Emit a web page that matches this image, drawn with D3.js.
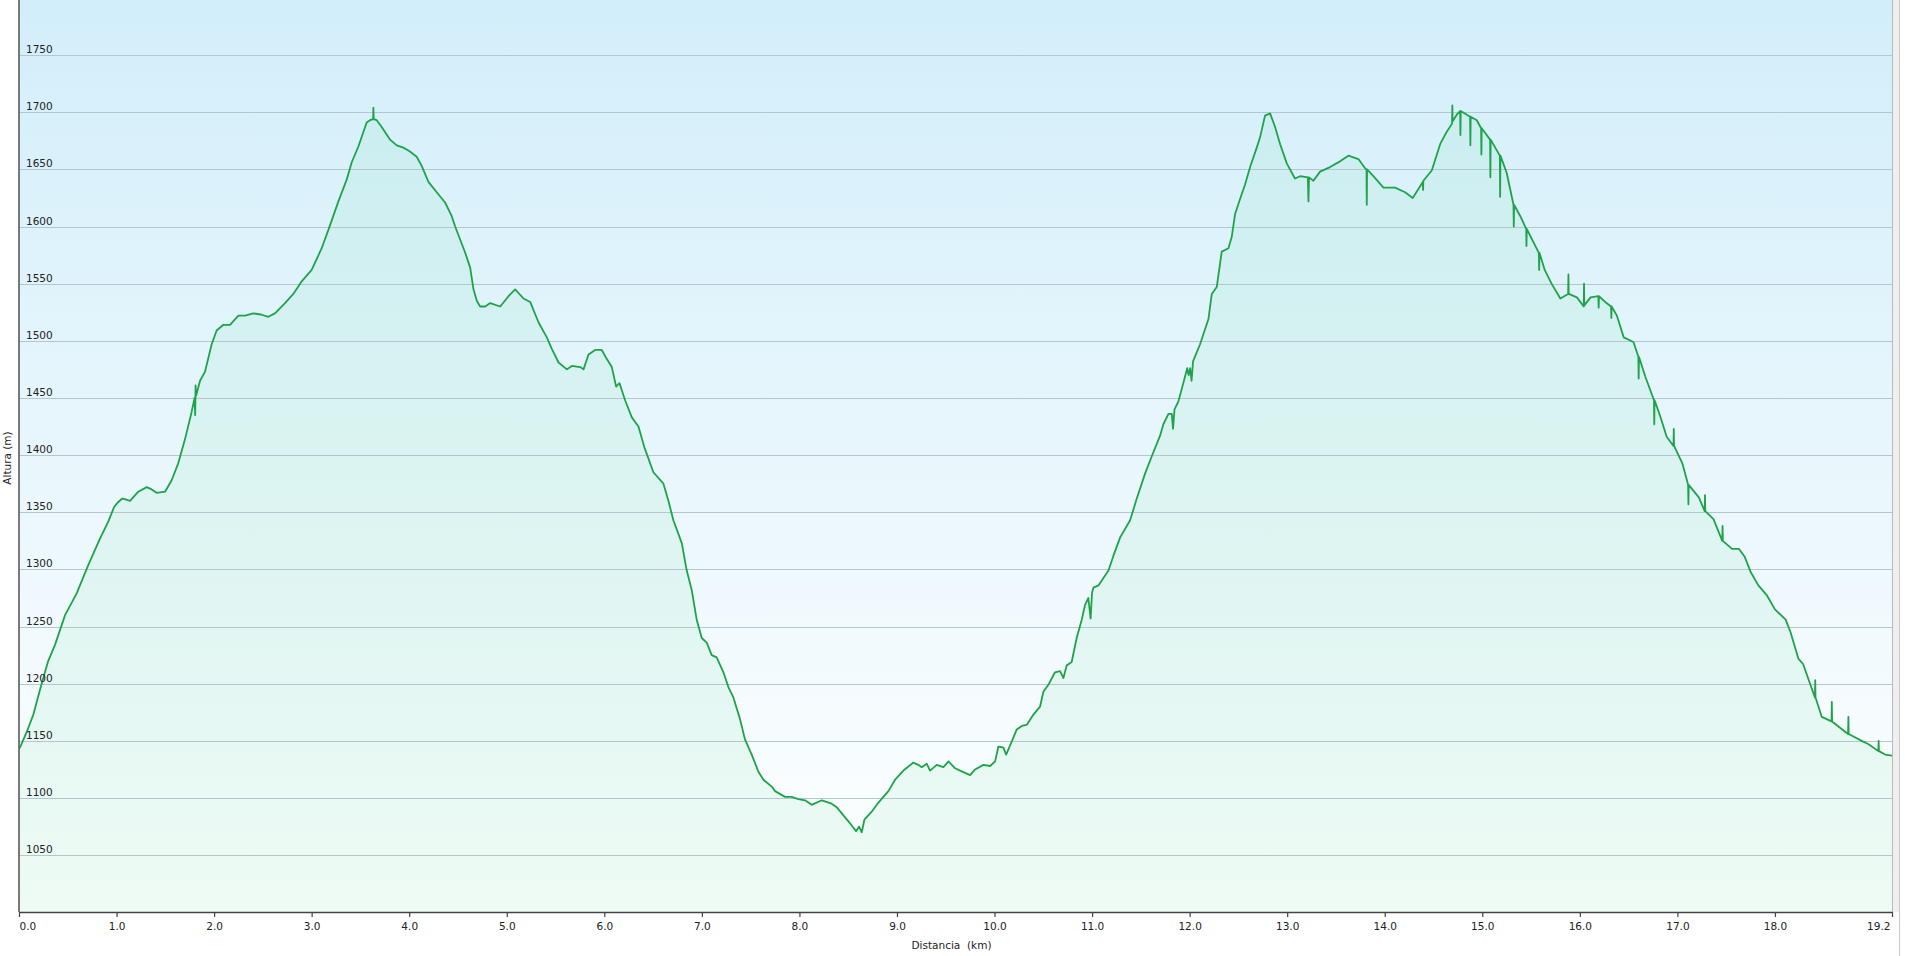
<!DOCTYPE html>
<html>
<head>
<meta charset="utf-8">
<script src="https://cdn.jsdelivr.net/npm/d3@7"></script>
<style>
html,body{margin:0;padding:0;background:#fff;}
svg{display:block;}
text{font-family:"DejaVu Sans",Verdana,sans-serif;fill:#222;}
</style>
</head>
<body>
<svg id="chart" width="1905" height="956"></svg>
<script>
// Distance along the track (km)
const distKm = [
0.000,0.020,0.080,0.147,0.232,0.300,0.369,0.472,0.591,0.711,0.830,0.916,0.977,1.018,1.059,1.100,1.138,1.223,1.309,1.360,
1.411,1.497,1.565,1.633,1.702,1.770,1.800,1.806,1.810,1.815,1.856,1.907,1.975,2.026,2.095,2.163,2.249,2.317,2.402,2.480,
2.556,2.624,2.727,2.812,2.898,3.000,3.103,3.188,3.274,3.359,3.410,3.479,3.564,3.598,3.630,3.633,3.636,3.667,3.718,3.804,
3.872,3.940,4.000,4.077,4.128,4.197,4.282,4.368,4.436,4.471,4.574,4.625,4.659,4.693,4.727,4.779,4.830,4.933,5.018,5.086,
5.172,5.240,5.326,5.411,5.462,5.531,5.616,5.667,5.753,5.787,5.838,5.906,5.974,6.026,6.077,6.121,6.155,6.213,6.282,6.350,
6.410,6.503,6.606,6.657,6.708,6.794,6.845,6.896,6.947,6.999,7.050,7.101,7.152,7.221,7.272,7.323,7.391,7.443,7.511,7.580,
7.631,7.716,7.750,7.853,7.921,7.989,8.058,8.126,8.229,8.331,8.382,8.468,8.536,8.581,8.612,8.639,8.666,8.741,8.810,8.912,
8.981,9.066,9.168,9.219,9.254,9.305,9.339,9.408,9.476,9.528,9.596,9.647,9.750,9.801,9.886,9.955,10.006,10.040,10.092,10.119,
10.160,10.228,10.279,10.331,10.399,10.467,10.501,10.552,10.620,10.672,10.706,10.740,10.791,10.842,10.894,10.928,10.962,10.985,11.000,11.014,
11.065,11.168,11.219,11.288,11.390,11.458,11.544,11.612,11.697,11.731,11.783,11.817,11.830,11.845,11.885,11.954,11.975,11.990,12.005,12.020,
12.035,12.107,12.193,12.227,12.278,12.329,12.398,12.432,12.466,12.517,12.569,12.620,12.688,12.722,12.773,12.825,12.876,12.928,12.997,13.080,
13.133,13.212,13.218,13.224,13.269,13.337,13.440,13.542,13.628,13.730,13.799,13.813,13.816,13.819,13.884,13.987,14.106,14.209,14.287,14.390,
14.393,14.396,14.482,14.568,14.636,14.690,14.693,14.696,14.740,14.773,14.776,14.779,14.875,14.878,14.881,14.944,14.988,14.991,14.994,15.080,
15.083,15.086,15.180,15.183,15.186,15.250,15.320,15.323,15.326,15.390,15.450,15.453,15.456,15.520,15.580,15.583,15.586,15.640,15.710,15.800,
15.880,15.883,15.886,15.970,16.040,16.043,16.046,16.110,16.190,16.193,16.196,16.260,16.320,16.323,16.326,16.380,16.450,16.550,16.600,16.603,
16.606,16.670,16.760,16.763,16.766,16.820,16.890,16.960,16.963,16.966,17.050,17.110,17.113,17.116,17.220,17.280,17.283,17.286,17.370,17.460,
17.463,17.466,17.560,17.630,17.690,17.750,17.830,17.920,18.000,18.110,18.160,18.240,18.290,18.360,18.410,18.413,18.416,18.480,18.580,18.583,
18.586,18.690,18.750,18.753,18.756,18.890,18.960,19.060,19.063,19.066,19.130,19.200
];
// Elevation (m)
const altM = [
1143,1146,1158,1173,1200,1220,1234,1260,1279,1304,1327,1342,1355,1359,1362,1361,1360,1368,1372,1370,
1367,1368,1378,1393,1414,1438,1450,1435,1461,1452,1465,1473,1497,1509,1514,1514,1522,1522,1524,1523,
1521,1524,1533,1541,1552,1562,1581,1601,1622,1641,1656,1670,1691,1693,1694,1704,1694,1693,1687,1676,
1671,1669,1666,1661,1653,1639,1630,1621,1609,1600,1577,1564,1545,1535,1530,1530,1533,1530,1539,1545,
1537,1534,1516,1503,1493,1481,1475,1478,1477,1475,1488,1492,1492,1484,1477,1460,1463,1448,1433,1425,
1407,1385,1375,1360,1343,1323,1299,1282,1256,1240,1236,1225,1223,1210,1197,1188,1169,1151,1138,1123,
1116,1110,1106,1101,1101,1099,1098,1094,1098,1095,1092,1083,1076,1071,1075,1070,1081,1088,1096,1106,
1116,1124,1131,1129,1127,1130,1124,1129,1127,1132,1126,1124,1120,1125,1129,1128,1132,1145,1144,1138,
1146,1160,1163,1164,1173,1180,1193,1199,1210,1211,1205,1216,1219,1240,1256,1269,1275,1257,1280,1284,
1286,1299,1312,1328,1343,1362,1384,1399,1417,1427,1436,1436,1423,1440,1447,1469,1476,1470,1476,1465,
1482,1497,1519,1541,1547,1578,1581,1591,1611,1624,1637,1652,1669,1678,1697,1699,1687,1672,1655,1642,
1644,1643,1622,1643,1640,1648,1652,1657,1662,1659,1651,1650,1619,1650,1644,1634,1634,1630,1625,1639,
1632,1640,1649,1672,1683,1690,1706,1692,1698,1701,1680,1701,1696,1671,1696,1693,1686,1663,1686,1676,
1643,1676,1662,1626,1662,1647,1619,1600,1619,1609,1598,1583,1598,1587,1577,1562,1577,1562,1550,1537,
1541,1558,1541,1538,1530,1550,1531,1538,1539,1529,1539,1534,1530,1520,1530,1522,1503,1499,1486,1467,
1486,1469,1448,1427,1448,1435,1416,1408,1423,1408,1393,1374,1357,1374,1363,1351,1365,1351,1344,1325,
1338,1325,1318,1318,1311,1298,1286,1277,1265,1256,1245,1222,1217,1200,1188,1203,1188,1171,1167,1184,
1167,1160,1156,1171,1156,1150,1147,1141,1150,1141,1138,1137
];
// Axis ticks
const xTicks = [0,1,2,3,4,5,6,7,8,9,10,11,12,13,14,15,16,17,18,19.2];
const yTicks = [1050,1100,1150,1200,1250,1300,1350,1400,1450,1500,1550,1600,1650,1700,1750];
const xTitle = "Distancia  (km)";
const yTitle = "Altura (m)";

(function(){
const data = distKm.map((d,i)=>({x:d, y:altM[i]}));

const pL = 19, pR = 1892, pT = 0, pB = 912;
const svg = d3.select("#chart");
const x = d3.scaleLinear().domain([0,19.2]).range([pL,pR]);
const y = d3.scaleLinear().domain([1000,1800]).range([912.3,-2.1]);

const defs = svg.append("defs");
const bg = defs.append("linearGradient").attr("id","bg").attr("x1",0).attr("y1",0).attr("x2",0).attr("y2",1);
bg.append("stop").attr("offset","0%").attr("stop-color","#d2eefa");
bg.append("stop").attr("offset","100%").attr("stop-color","#ffffff");
const ag = defs.append("linearGradient").attr("id","ag").attr("gradientUnits","userSpaceOnUse")
  .attr("x1",0).attr("y1",0).attr("x2",0).attr("y2",pB);
ag.append("stop").attr("offset","0%").attr("stop-color","#2ecc71").attr("stop-opacity",0.07);
ag.append("stop").attr("offset","100%").attr("stop-color","#2ecc71").attr("stop-opacity",0.08);
defs.append("clipPath").attr("id","clip").append("rect")
  .attr("x",pL).attr("y",pT).attr("width",pR-pL).attr("height",pB-pT);

// plot background
svg.append("rect").attr("x",pL).attr("y",pT).attr("width",pR-pL).attr("height",pB-pT)
  .attr("fill","url(#bg)");

// right border strip
svg.append("rect").attr("x",pR).attr("y",0).attr("width",7).attr("height",pB).attr("fill","#efefef");
svg.append("line").attr("x1",pR+0.5).attr("x2",pR+0.5).attr("y1",0).attr("y2",pB)
  .attr("stroke","#b4bcc0").attr("stroke-width",1);
svg.append("line").attr("x1",1899.5).attr("x2",1899.5).attr("y1",0).attr("y2",956)
  .attr("stroke","#c8c8c8").attr("stroke-width",1);

const g = svg.append("g").attr("clip-path","url(#clip)");

// area fill
g.append("path").datum(data)
  .attr("d", d3.area().x(d=>x(d.x)).y0(pB).y1(d=>y(d.y)))
  .attr("fill","url(#ag)");

// gridlines
g.selectAll("line.grid").data(yTicks).join("line").attr("class","grid")
  .attr("x1",pL).attr("x2",pR)
  .attr("y1",d=>Math.round(y(d))+0.5).attr("y2",d=>Math.round(y(d))+0.5)
  .attr("stroke","#b3c7cf").attr("stroke-width",1.2);

// y tick labels (inside plot)
svg.selectAll("text.ylab").data(yTicks).join("text").attr("class","ylab")
  .attr("x",26).attr("y",d=>Math.round(y(d))-2)
  .attr("font-size","10.5px").text(d=>d);

// profile line
g.append("path").datum(data)
  .attr("d", d3.line().x(d=>x(d.x)).y(d=>y(d.y)))
  .attr("fill","none").attr("stroke","#1fa34a").attr("stroke-width",1.8)
  .attr("stroke-linejoin","round");

// left axis line
svg.append("line").attr("x1",pL).attr("x2",pL).attr("y1",0).attr("y2",pB)
  .attr("stroke","#5a5a5a").attr("stroke-width",1.6);

// bottom axis
const xAxis = d3.axisBottom(x).tickValues(xTicks).tickFormat(d3.format(".1f"))
  .tickSizeInner(5).tickSizeOuter(0).tickPadding(6);
const ax = svg.append("g").attr("transform",`translate(0,${pB})`).call(xAxis);
ax.select(".domain").attr("stroke","#444").attr("stroke-width",1.6);
ax.selectAll(".tick line").attr("stroke","#444").attr("stroke-width",1.2);
ax.selectAll(".tick text").attr("font-size","10.5px").attr("fill","#222")
  .attr("font-family","DejaVu Sans, Verdana, sans-serif")
  .attr("text-anchor",(d,i,n)=> i===0 ? "start" : (i===n.length-1 ? "end" : "middle"))
  .attr("dx",(d,i,n)=> i===n.length-1 ? "-2" : "0");

// axis titles
svg.append("text").attr("x",(pL+pR)/2-4).attr("y",949).attr("text-anchor","middle")
  .attr("font-size","10.5px").style("white-space","pre").text(xTitle);
svg.append("text").attr("transform","translate(11,458) rotate(-90)").attr("text-anchor","middle")
  .attr("font-size","10.5px").text(yTitle);
})();
</script>
</body>
</html>
